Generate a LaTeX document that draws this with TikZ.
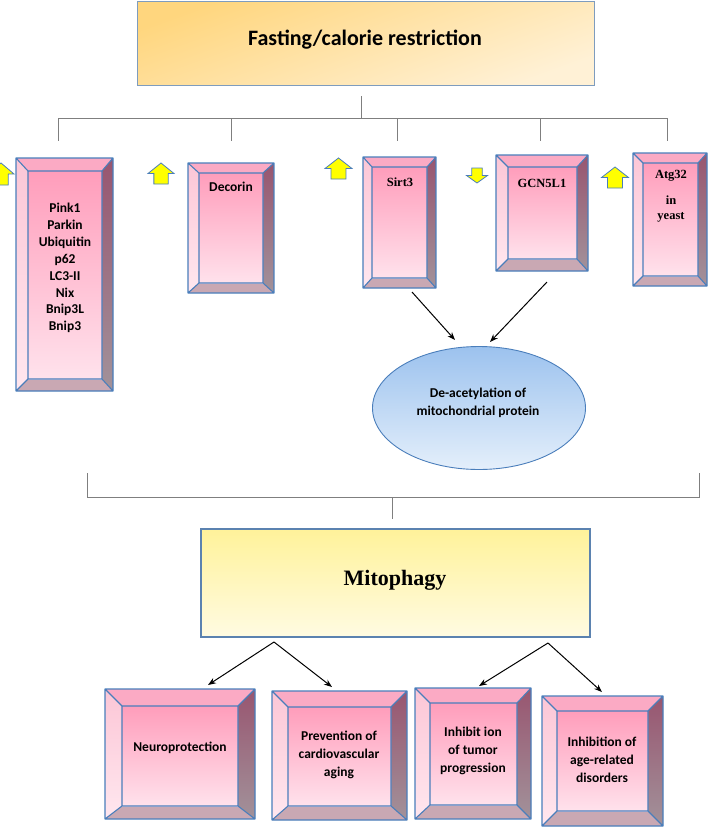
\documentclass[tikz,border=0pt]{standalone}
\usepackage{fontspec}
\setmainfont{Carlito}
\newfontfamily\tnr{Liberation Serif}
\usetikzlibrary{arrows.meta,shapes.geometric}
\definecolor{bvline}{HTML}{4A7EBB}
\definecolor{bvtopc}{HTML}{FBAAC4}
\definecolor{bvlefta}{HTML}{FCC6D6}
\definecolor{bvleftb}{HTML}{FFE7EF}
\definecolor{bvrighta}{HTML}{985570}
\definecolor{bvrightb}{HTML}{A2929A}
\definecolor{bvbotc}{HTML}{C9A8B3}
\definecolor{bvina}{HTML}{FF9DBB}
\definecolor{bvinb}{HTML}{FFE2EC}
\definecolor{treegray}{HTML}{7F7F7F}
\definecolor{yel}{HTML}{FFFF00}
\definecolor{ellA}{HTML}{9CC2EE}
\definecolor{ellB}{HTML}{E4EFFB}
\definecolor{ellline}{HTML}{4A7EBB}
\definecolor{topA}{HTML}{FFD67E}
\definecolor{topB}{HTML}{FFF1D6}
\definecolor{topline}{HTML}{7E9CBE}
\definecolor{mitA}{HTML}{FFF29A}
\definecolor{mitB}{HTML}{FFFBE2}
\definecolor{mitline}{HTML}{5B82B0}
\tikzset{
  bvedge/.style={draw=bvline,line width=1.1pt,line join=round},
  yarr/.style={fill=yel,draw=bvline,line width=0.8pt,line join=miter},
  treeline/.style={draw=treegray,line width=0.9pt},
  arr/.style={draw=black,line width=1pt,-{Stealth[length=8pt,width=6pt]}},
  cal/.style={font=\bfseries\fontsize{13.5}{18}\selectfont,align=center,inner sep=0pt},
  calp/.style={font=\bfseries\fontsize{13.5}{16.9}\selectfont,align=center,inner sep=0pt},
  ser/.style={font=\tnr\bfseries\fontsize{12.5}{15.5}\selectfont,align=center,inner sep=0pt},
}
% outer x1 y1 x2 y2, inner x1 y1 x2 y2, name
\newcommand\bevbox[9]{%
  \fill[bvtopc] (#1,#2) -- (#3,#2) -- (#7,#6) -- (#5,#6) -- cycle;
  \shade[top color=bvlefta,bottom color=bvleftb] (#1,#2) -- (#5,#6) -- (#5,#8) -- (#1,#4) -- cycle;
  \shade[top color=bvrighta,bottom color=bvrightb] (#3,#2) -- (#3,#4) -- (#7,#8) -- (#7,#6) -- cycle;
  \fill[bvbotc] (#1,#4) -- (#3,#4) -- (#7,#8) -- (#5,#8) -- cycle;
  \shade[top color=bvina,bottom color=bvinb] (#5,#6) rectangle (#7,#8);
  \draw[bvedge] (#1,#2) rectangle (#3,#4) (#5,#6) rectangle (#7,#8)
     (#1,#2) -- (#5,#6) (#3,#2) -- (#7,#6) (#1,#4) -- (#5,#8) (#3,#4) -- (#7,#8);
  \path (#1,#2) coordinate (#9-nw) (#3,#4) coordinate (#9-se);
}
% cx, ytop, halfwidth, height
\newcommand\yup[4]{%
  \draw[yarr] (#1,#2) -- ({#1+#3},{#2+0.5*#4}) -- ({#1+0.55*#3},{#2+0.5*#4})
   -- ({#1+0.55*#3},{#2+#4}) -- ({#1-0.55*#3},{#2+#4}) -- ({#1-0.55*#3},{#2+0.5*#4})
   -- ({#1-#3},{#2+0.5*#4}) -- cycle;}
\newcommand\ydown[4]{%
  \draw[yarr] (#1,{#2+#4}) -- ({#1+#3},{#2+0.5*#4}) -- ({#1+0.5*#3},{#2+0.5*#4})
   -- ({#1+0.5*#3},#2) -- ({#1-0.5*#3},#2) -- ({#1-0.5*#3},{#2+0.5*#4})
   -- ({#1-#3},{#2+0.5*#4}) -- cycle;}
\begin{document}
\begin{tikzpicture}[x=1pt,y=-1pt]
\clip (0,0) rectangle (709,828);
\fill[white] (0,0) rectangle (709,828);

% top box
\shade[top color=topA,bottom color=topB,shading angle=20] (137,1) rectangle (594,85);
\draw[topline,line width=1pt] (137,1) rectangle (594,85);
\node[font=\bfseries\fontsize{22}{26}\selectfont,inner sep=0pt] (fast) at (365,40) {Fasting/calorie restriction};

% tree
\coordinate (t0) at (361,96);
\coordinate (tj) at (361,118);
\coordinate (tl) at (58,118);
\coordinate (tr) at (667,118);
\foreach \x/\n in {58/d1,231/d2,397/d3,540/d4,667/d5}{
  \coordinate (\n t) at (\x,118);
  \coordinate (\n b) at (\x,141);
  \draw[treeline] (\n t) -- (\n b);
}
\draw[treeline] (t0) -- (tj);
\draw[treeline] (tl) -- (tr);

% boxes row 1
\bevbox{16}{158}{113}{391}{28}{171}{102}{379}{bx1}
\bevbox{188}{163}{274}{293}{199}{173}{263}{283}{bx2}
\bevbox{363}{157}{436}{288}{372}{167}{427}{278}{bx3}
\bevbox{496}{155}{588}{271}{508}{167}{577}{259}{bx4}
\bevbox{633}{153}{707}{286}{643}{163}{698}{276}{bx5}

\node[calp] (t1) at (65,268) {Pink1\\Parkin\\Ubiquitin\\p62\\LC3-II\\Nix\\Bnip3L\\Bnip3};
\node[cal] (t2) at (231,187) {Decorin};
\node[ser] (t3) at (400,182) {Sirt3};
\node[ser] (t4) at (542,183) {GCN5L1};
\node[ser] (t5a) at (671,176) {Atg32};
\node[ser] (t5b) at (671,209) {in\\yeast};

% yellow arrows
\yup{1}{163}{13}{22}
\yup{161}{163}{13}{21}
\yup{338.5}{158}{13.5}{21}
\ydown{477}{168}{10.5}{15}
\yup{615}{167}{13.5}{21}

% ellipse
\node[ellipse,draw=ellline,line width=0.9pt,top color=ellA,bottom color=ellB,
      minimum width=213pt,minimum height=123pt,inner sep=0pt] (ell) at (479,408) {};
\node[cal] (ellt) at (478,403) {De-acetylation of\\mitochondrial protein};

\coordinate (a1s) at (412,292);
\coordinate (a1e) at (455,340);
\coordinate (a2s) at (547,282);
\coordinate (a2e) at (490,342);
\draw[arr] (a1s) -- (a1e);
\draw[arr] (a2s) -- (a2e);

% bottom bracket
\coordinate (bl1) at (87,473);
\coordinate (bl2) at (87,497);
\coordinate (br1) at (699,473);
\coordinate (br2) at (699,497);
\coordinate (bs1) at (392,497);
\coordinate (bs2) at (392,519);
\draw[treeline] (bl1) -- (bl2) -- (br2) -- (br1);
\draw[treeline] (bs1) -- (bs2);

% mitophagy
\shade[top color=mitA,bottom color=mitB] (201,529) rectangle (590,637);
\draw[mitline,line width=1.2pt] (201,529) rectangle (590,637);
\node[font=\tnr\bfseries\fontsize{22}{26}\selectfont,inner sep=0pt] (mito) at (395,580) {Mitophagy};

% bottom boxes
\bevbox{105}{689}{255}{819}{122}{706}{238}{806}{bb1}
\bevbox{272}{691}{407}{820}{288}{707}{391}{806}{bb2}
\bevbox{415}{688}{531}{819}{430}{703}{517}{805}{bb3}
\bevbox{542}{696}{663}{826}{557}{711}{648}{811}{bb4}

\node[cal] (o1) at (180,748) {Neuroprotection};
\node[cal] (o2) at (339,755) {Prevention of\\cardiovascular\\aging};
\node[cal] (o3) at (473,751) {Inhibit ion\\of tumor\\progression};
\node[cal] (o4) at (602,760) {Inhibition of\\age-related\\disorders};

\coordinate (p1) at (274,642);
\coordinate (p2) at (548,643);
\coordinate (e1) at (208,685);
\coordinate (e2) at (332,687);
\coordinate (e3) at (479,686);
\coordinate (e4) at (602,692);
\draw[arr] (p1) -- (e1);
\draw[arr] (p1) -- (e2);
\draw[arr] (p2) -- (e3);
\draw[arr] (p2) -- (e4);
\end{tikzpicture}
\end{document}
